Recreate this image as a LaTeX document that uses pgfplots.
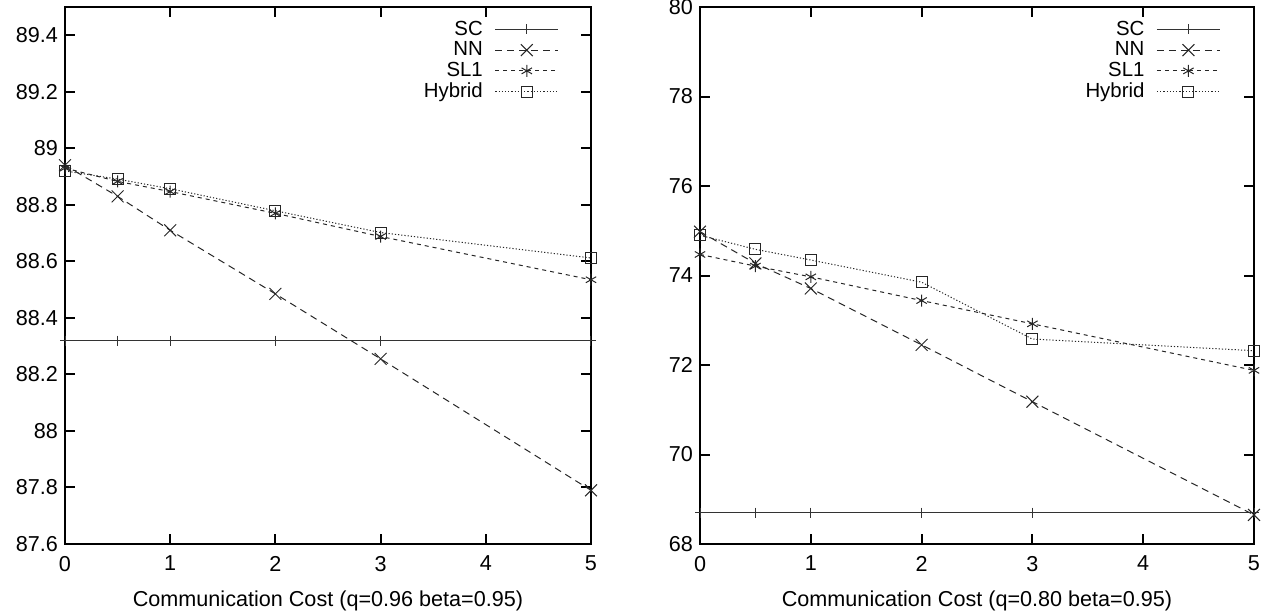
\documentclass[border=0pt]{standalone}
\usepackage{fontspec}
\setmainfont{Liberation Sans}
\usepackage{pgfplots}
\pgfplotsset{compat=1.18}
\pgfplotsset{
  gp/.style={
    scale only axis, height=268.5pt,
    xmin=0, xmax=5, xtick={0,1,2,3,4,5},
    tick align=inside, major tick length=5pt,
    xtick pos=both, ytick pos=both,
    axis line style={line width=1pt},
    every tick/.style={line width=1pt, black},
    ticklabel style={font=\fontsize{10.8}{13}\selectfont},
    xticklabel style={yshift=-2.5pt},
    label style={font=\fontsize{10.8}{13}\selectfont},
    xlabel style={yshift=-3pt},
    /pgf/number format/assume math mode=true,
    legend plot pos=right, legend cell align=right,
    legend style={draw=none, fill=none, font=\fontsize{10.2}{11}\selectfont,
      anchor=north east, at={(0.951,0.99)}, row sep=-2.2pt, column sep=4pt},
    legend image code/.code={\draw[mark repeat=2,mark phase=2,##1] plot coordinates {(0pt,0pt) (15.75pt,0pt) (31.5pt,0pt)};},
  },
  sc/.style={line width=0.5pt, black!80, mark=+, mark size=2.5pt, mark options={solid}},
  nn/.style={line width=0.5pt, black!85, dash pattern=on 3.5pt off 2.5pt, mark=x, mark size=4.2pt, mark options={solid}},
  sl1/.style={line width=0.5pt, black!85, dash pattern=on 2pt off 2pt, mark=asterisk, mark size=3pt, mark options={solid}},
  hyb/.style={line width=0.5pt, black!85, dash pattern=on 0.6pt off 1pt, mark=square, mark size=2.75pt, mark options={solid}},
}
\begin{document}
\begin{tikzpicture}
\path[use as bounding box] (0,0) rectangle (634pt,306pt);
\begin{axis}[gp, at={(32.5pt,34pt)}, anchor=south west, width=263pt,
  ymin=87.6, ymax=89.5, ytick={87.6,87.8,88,88.2,88.4,88.6,88.8,89,89.2,89.4},
  yticklabels={87.6,87.8,88,88.2,88.4,88.6,88.8,89,89.2,89.4},
  xlabel={Communication Cost (q=0.96 beta=0.95)}]
\addplot[sc] coordinates {(0,88.32) (0.5,88.32) (1,88.32) (2,88.32) (3,88.32) (5,88.32)};
\addlegendentry{SC}
\addplot[nn] coordinates {(0,88.94) (0.5,88.83) (1,88.71) (2,88.485) (3,88.255) (5,87.79)};
\addlegendentry{NN}
\addplot[sl1] coordinates {(0,88.93) (0.5,88.883) (1,88.847) (2,88.77) (3,88.688) (5,88.535)};
\addlegendentry{SL1}
\addplot[hyb] coordinates {(0,88.92) (0.5,88.891) (1,88.857) (2,88.779) (3,88.702) (5,88.612)};
\addlegendentry{Hybrid}
\end{axis}
\begin{axis}[gp, at={(350pt,34pt)}, anchor=south west, width=277pt,
  ymin=68, ymax=80, ytick={68,70,72,74,76,78,80},
  yticklabels={68,70,72,74,76,78,80},
  xlabel={Communication Cost (q=0.80 beta=0.95)}]
\addplot[sc] coordinates {(0,68.7) (0.5,68.7) (1,68.7) (2,68.7) (3,68.7) (5,68.7)};
\addlegendentry{SC}
\addplot[nn] coordinates {(0,74.98) (0.5,74.27) (1,73.71) (2,72.45) (3,71.18) (5,68.65)};
\addlegendentry{NN}
\addplot[sl1] coordinates {(0,74.47) (0.5,74.21) (1,73.97) (2,73.44) (3,72.92) (5,71.88)};
\addlegendentry{SL1}
\addplot[hyb] coordinates {(0,74.90) (0.5,74.585) (1,74.346) (2,73.85) (3,72.58) (5,72.32)};
\addlegendentry{Hybrid}
\end{axis}
\end{tikzpicture}
\end{document}
